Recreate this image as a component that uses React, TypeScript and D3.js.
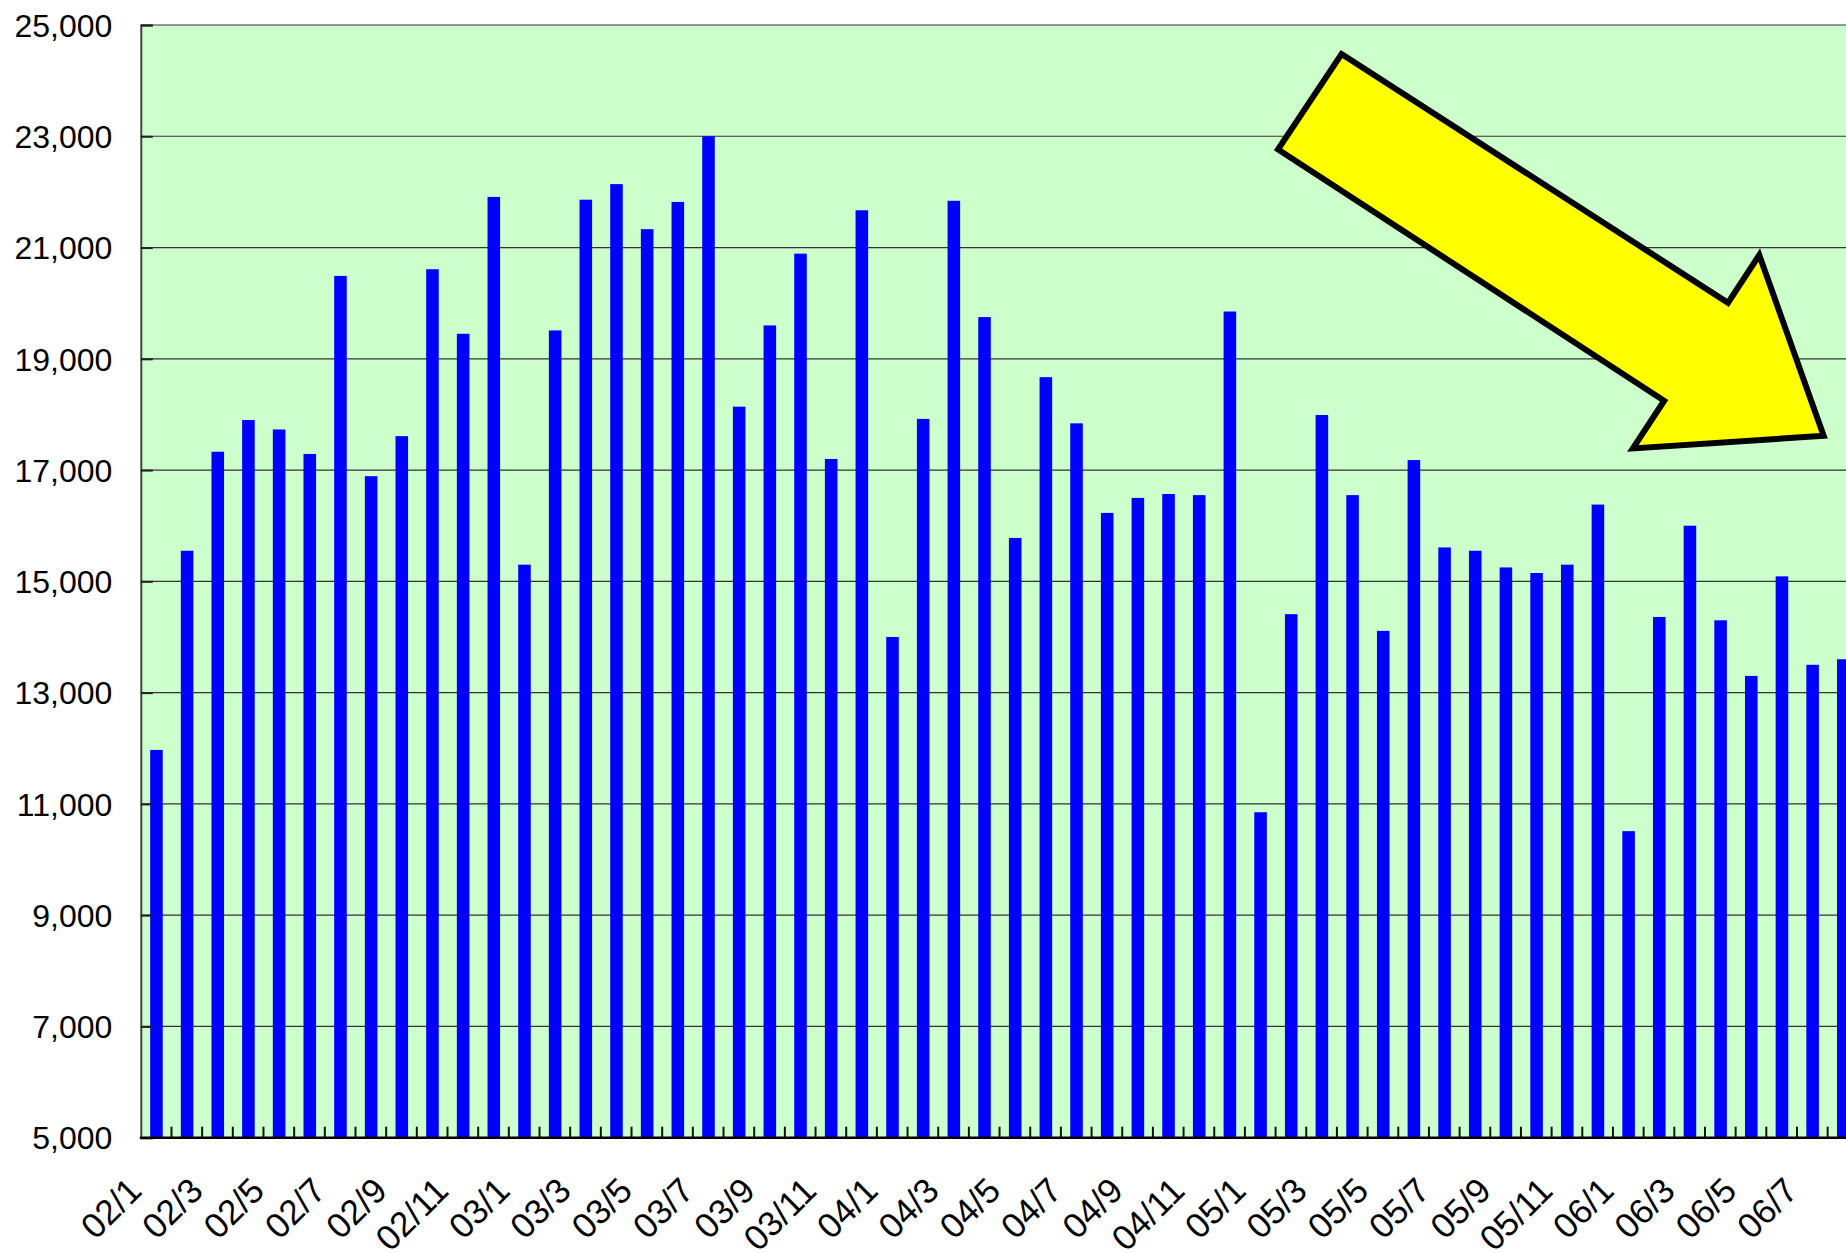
import React, { useEffect, useRef } from "react";
import * as d3 from "d3";

// categories: year/month from 02/1 to 06/8
const years = ["02", "03", "04", "05", "06"];
const months = [12, 12, 12, 12, 8];
const categories: string[] = [];
years.forEach((y, i) => {
  for (let m = 1; m <= months[i]; m++) categories.push(`${y}/${m}`);
});

const values02 = [11970, 15550, 17330, 17900, 17730, 17290, 20490, 16890, 17610, 20610, 19450, 21910];
const values03 = [15300, 19510, 21860, 22140, 21330, 21820, 23000, 18140, 19600, 20890, 17200, 21670];
const values04 = [14000, 17920, 21840, 19750, 15780, 18670, 17840, 16230, 16500, 16570, 16550, 19850];
const values05 = [10850, 14410, 17990, 16550, 14110, 17180, 15610, 15550, 15250, 15150, 15300, 16380];
const values06 = [10510, 14360, 16000, 14300, 13300, 15090, 13500, 13600];
const values = [...values02, ...values03, ...values04, ...values05, ...values06];

const yTicks = [5000, 7000, 9000, 11000, 13000, 15000, 17000, 19000, 21000, 23000, 25000];

// arrow annotation in data space: [category index, value]
const arrowPoints: [number, number][] = [
  [38.65, 24477],
  [51.25, 20007],
  [52.27, 20865],
  [54.37, 17617],
  [48.15, 17390],
  [49.17, 18246],
  [36.58, 22764],
];

export default function App() {
  const svgRef = useRef<SVGSVGElement>(null);
  const width = 1846;
  const height = 1253;

  useEffect(() => {
    const svg = d3.select(svgRef.current);
    svg.selectAll("*").remove();

    const left = 140.8;
    const top = 25;
    const bottom = 1137.7;
    const step = 30.67;
    const font = "'Liberation Sans', Arial, sans-serif";

    const x = d3
      .scaleBand()
      .domain(categories)
      .range([left, left + step * categories.length])
      .padding(0);

    const y = d3.scaleLinear().domain([5000, 25000]).range([bottom, top]);

    const xIdx = (i: number) => (x(categories[0]) as number) + x.bandwidth() / 2 + i * x.step();

    // plot background
    svg
      .append("rect")
      .attr("x", left)
      .attr("y", top)
      .attr("width", x.range()[1] - left)
      .attr("height", bottom - top)
      .attr("fill", "#ccffcc");

    // gridlines
    svg
      .append("g")
      .selectAll("line")
      .data(yTicks.slice(1))
      .enter()
      .append("line")
      .attr("x1", left)
      .attr("x2", x.range()[1])
      .attr("y1", (d) => y(d))
      .attr("y2", (d) => y(d))
      .attr("stroke", "#333")
      .attr("stroke-width", 1.2);

    // bars
    const barW = x.bandwidth() * 0.41;
    svg
      .append("g")
      .selectAll("rect")
      .data(values)
      .enter()
      .append("rect")
      .attr("x", (d, i) => (x(categories[i]) as number) + x.bandwidth() / 2 - barW / 2 + 0.3)
      .attr("y", (d) => y(d))
      .attr("width", barW)
      .attr("height", (d) => bottom - y(d))
      .attr("fill", "#0000ff");

    // y axis
    const yAxis = d3
      .axisLeft(y)
      .tickValues(yTicks)
      .tickSize(-12)
      .tickPadding(0)
      .tickFormat((d) => d3.format(",")(d as number));

    const gy = svg.append("g").attr("transform", `translate(${left},0)`).call(yAxis);
    gy.select(".domain").attr("stroke", "#444").attr("stroke-width", 2);
    gy.selectAll(".tick line").attr("stroke", "#222").attr("stroke-width", 2);
    gy.selectAll(".tick text")
      .attr("x", -28.5)
      .attr("dy", "0.35em")
      .style("font-family", font)
      .style("font-size", "32px")
      .attr("fill", "#000");

    // x axis ticks at band boundaries
    svg
      .append("g")
      .selectAll("line")
      .data(categories.slice(1))
      .enter()
      .append("line")
      .attr("x1", (d) => x(d) as number)
      .attr("x2", (d) => x(d) as number)
      .attr("y1", bottom)
      .attr("y2", bottom - 11)
      .attr("stroke", "#111")
      .attr("stroke-width", 2);

    svg
      .append("line")
      .attr("x1", left - 1)
      .attr("x2", x.range()[1])
      .attr("y1", bottom)
      .attr("y2", bottom)
      .attr("stroke", "#000")
      .attr("stroke-width", 2.5);

    // x labels, every other category
    svg
      .append("g")
      .selectAll("text")
      .data(categories.filter((d, i) => i % 2 === 0))
      .enter()
      .append("text")
      .attr(
        "transform",
        (d) => `translate(${(x(d) as number) + x.bandwidth() / 2 - 12.5},${bottom + 55}) rotate(-45)`
      )
      .attr("text-anchor", "end")
      .style("font-family", font)
      .style("font-size", "35px")
      .attr("fill", "#000")
      .text((d) => d);

    // arrow annotation
    const line = d3
      .line<[number, number]>()
      .x((d) => xIdx(d[0]))
      .y((d) => y(d[1]))
      .curve(d3.curveLinearClosed);

    svg
      .append("path")
      .datum(arrowPoints)
      .attr("d", line)
      .attr("fill", "#ffff00")
      .attr("stroke", "#000")
      .attr("stroke-width", 6)
      .attr("stroke-linejoin", "miter");
  }, []);

  return (
    <svg
      ref={svgRef}
      width={width}
      height={height}
      style={{ position: "absolute", left: 0, top: 0, display: "block", background: "#fff" }}
    ></svg>
  );
}
